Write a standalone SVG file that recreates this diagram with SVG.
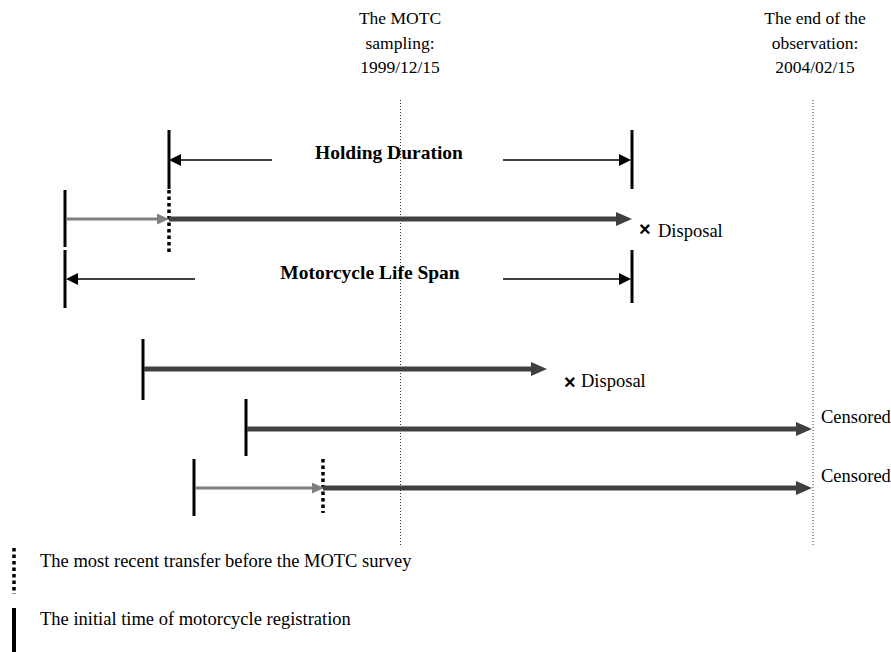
<svg xmlns="http://www.w3.org/2000/svg" width="891" height="652" viewBox="0 0 891 652">
<style>
text{font-family:"Liberation Serif","Times New Roman",serif;fill:#000}
.lbl{font-size:17.5px;text-anchor:middle}
.b{font-size:19.5px;font-weight:bold;text-anchor:middle}
.t{font-size:18.5px}
.x{font-family:"Liberation Sans",Arial,sans-serif;font-size:20px;font-weight:bold}
.ref{stroke:#333;stroke-width:1;stroke-dasharray:1 2;fill:none}
.tick{stroke:#000;stroke-width:3;fill:none}
.dot{stroke:#000;stroke-width:3.5;stroke-dasharray:3.5 3;fill:none}
.thin{stroke:#000;stroke-width:1.5;fill:none}
.bar{stroke:#404040;stroke-width:5;fill:none}
.gray{stroke:#7f7f7f;stroke-width:3;fill:none}
</style>
<defs>
<marker id="hThin" markerUnits="userSpaceOnUse" markerWidth="12" markerHeight="12" refX="2" refY="6" orient="auto"><path d="M0,0 L12,6 L0,12 z" fill="#000"/></marker>
<marker id="hBar" markerUnits="userSpaceOnUse" markerWidth="16" markerHeight="14" refX="6" refY="7" orient="auto"><path d="M0,0 L16,7 L0,14 z" fill="#404040"/></marker>
<marker id="hGray" markerUnits="userSpaceOnUse" markerWidth="12" markerHeight="11" refX="4" refY="5.5" orient="auto"><path d="M0,0 L12,5.5 L0,11 z" fill="#7f7f7f"/></marker>
</defs>

<g id="ref-lines">
<line class="ref" x1="400.5" y1="100" x2="400.5" y2="546"/>
<line class="ref" x1="813" y1="100" x2="813" y2="545"/>
</g>

<g id="label-motc">
<text class="lbl" x="400" y="24">The MOTC</text>
<text class="lbl" x="400" y="48.5">sampling:</text>
<text class="lbl" x="400" y="73">1999/12/15</text>
</g>
<g id="label-end">
<text class="lbl" x="815" y="24">The end of the</text>
<text class="lbl" x="815" y="48.5">observation:</text>
<text class="lbl" x="815" y="73">2004/02/15</text>
</g>

<g id="holding-duration">
<line class="tick" x1="169" y1="130" x2="169" y2="189"/>
<line class="tick" x1="632" y1="130" x2="632" y2="189"/>
<text class="b" x="389" y="159">Holding Duration</text>
</g>
<g id="life-span">
<line class="tick" x1="65" y1="250" x2="65" y2="308"/>
<line class="tick" x1="632" y1="250" x2="632" y2="303"/>
<text class="b" x="370" y="279">Motorcycle Life Span</text>
</g>

<g id="row1">
<line class="tick" x1="65" y1="190" x2="65" y2="247"/>
<line class="dot" x1="169" y1="190" x2="169" y2="253"/>
<text class="x" x="639" y="236">×</text>
<text class="t" x="658" y="237">Disposal</text>
</g>
<g id="row2">
<line class="tick" x1="143" y1="339" x2="143" y2="400"/>
<text class="x" x="564" y="389">×</text>
<text class="t" x="581" y="387">Disposal</text>
</g>
<g id="row3">
<line class="tick" x1="246" y1="399" x2="246" y2="456"/>
<text class="t" x="821" y="423">Censored</text>
</g>
<g id="row4">
<line class="tick" x1="194" y1="459" x2="194" y2="516"/>
<line class="dot" x1="323" y1="459" x2="323" y2="513"/>
<text class="t" x="821" y="482">Censored</text>
</g>

<g id="connectors">
<line class="thin" x1="272" y1="160" x2="179" y2="160" marker-end="url(#hThin)"/>
<line class="thin" x1="503" y1="160" x2="621" y2="160" marker-end="url(#hThin)"/>
<line class="thin" x1="195" y1="279" x2="76" y2="279" marker-end="url(#hThin)"/>
<line class="thin" x1="503" y1="279" x2="621" y2="279" marker-end="url(#hThin)"/>
<line class="gray" x1="66" y1="219" x2="161" y2="219" marker-end="url(#hGray)"/>
<line class="bar" x1="169" y1="219" x2="622" y2="219" marker-end="url(#hBar)"/>
<line class="bar" x1="144" y1="369" x2="537" y2="369" marker-end="url(#hBar)"/>
<line class="bar" x1="247" y1="429" x2="802" y2="429" marker-end="url(#hBar)"/>
<line class="gray" x1="195" y1="488" x2="316" y2="488" marker-end="url(#hGray)"/>
<line class="bar" x1="323" y1="488" x2="802" y2="488" marker-end="url(#hBar)"/>
</g>

<g id="legend">
<line class="dot" x1="14" y1="548" x2="14" y2="594"/>
<text class="t" x="40" y="567">The most recent transfer before the MOTC survey</text>
<line class="tick" x1="14" y1="608" x2="14" y2="652" style="stroke-width:4"/>
<text class="t" x="40" y="625">The initial time of motorcycle registration</text>
</g>
</svg>
